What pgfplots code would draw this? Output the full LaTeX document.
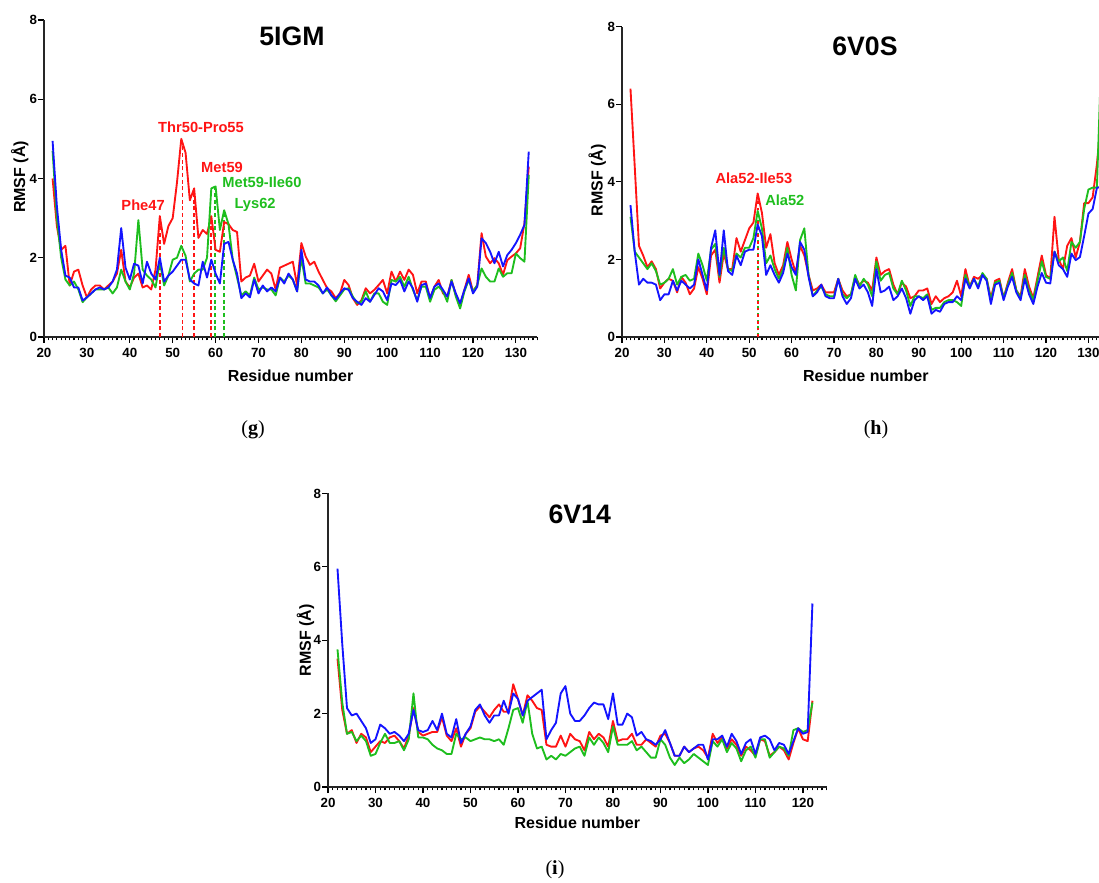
\documentclass[border=0pt]{standalone}
\usepackage{pgfplots}
\pgfplotsset{compat=1.18}
\usepackage{pgfplotstable}
\usepackage{fontspec}
\setmainfont{Liberation Sans}
\newfontfamily\capfont{Liberation Serif}

\definecolor{cred}{RGB}{255,20,20}
\definecolor{cgreen}{RGB}{30,190,30}
\definecolor{cblue}{RGB}{20,20,255}

% RMSF per residue: red, green and blue trajectories
\pgfplotstableread{
res red green blue
22 4.00 4.70 4.95
23 2.80 3.00 3.30
24 2.20 2.00 2.20
25 2.30 1.45 1.55
26 1.30 1.30 1.50
27 1.65 1.40 1.25
28 1.70 1.20 1.25
29 1.30 0.88 0.92
30 1.00 1.00 1.00
31 1.20 1.10 1.10
32 1.30 1.20 1.20
33 1.30 1.20 1.25
34 1.20 1.20 1.20
35 1.30 1.25 1.25
36 1.40 1.10 1.40
37 1.60 1.25 1.70
38 2.20 1.70 2.75
39 1.40 1.40 1.75
40 1.25 1.20 1.45
41 1.50 1.60 1.85
42 1.60 2.95 1.80
43 1.25 1.70 1.35
44 1.30 1.55 1.90
45 1.20 1.45 1.60
46 1.70 1.25 1.45
47 3.05 1.90 2.00
48 2.35 1.30 1.40
49 2.80 1.55 1.55
50 3.00 1.95 1.65
51 3.90 2.00 1.80
52 5.00 2.30 1.95
53 4.65 2.05 1.95
54 3.45 1.40 1.45
55 3.75 1.60 1.35
56 2.50 1.70 1.30
57 2.70 1.70 1.90
58 2.60 2.00 1.50
59 3.05 3.75 1.95
60 2.20 3.80 1.60
61 2.15 2.70 1.35
62 2.90 3.20 2.35
63 2.85 2.85 2.40
64 2.70 1.95 1.95
65 2.65 1.50 1.60
66 1.40 1.05 0.98
67 1.50 1.15 1.10
68 1.55 1.05 1.00
69 1.85 1.50 1.45
70 1.40 1.20 1.10
71 1.55 1.25 1.30
72 1.70 1.20 1.15
73 1.60 1.20 1.25
74 1.20 1.05 1.15
75 1.75 1.50 1.50
76 1.80 1.40 1.35
77 1.85 1.55 1.60
78 1.90 1.45 1.45
79 1.30 1.15 1.15
80 2.37 2.00 2.20
81 2.03 1.35 1.45
82 1.82 1.35 1.40
83 1.90 1.30 1.40
84 1.65 1.25 1.30
85 1.44 1.10 1.10
86 1.23 1.20 1.25
87 1.15 1.05 1.05
88 0.98 0.90 0.95
89 1.10 1.05 1.10
90 1.44 1.20 1.23
91 1.31 1.23 1.19
92 0.98 1.02 0.98
93 0.81 0.85 0.89
94 0.93 0.89 0.81
95 1.23 1.15 0.98
96 1.10 0.89 0.89
97 1.19 1.10 1.06
98 1.31 1.10 1.23
99 1.44 0.89 1.15
100 1.10 0.81 0.93
101 1.65 1.44 1.35
102 1.40 1.40 1.31
103 1.65 1.52 1.44
104 1.44 1.27 1.15
105 1.70 1.52 1.40
106 1.57 1.19 1.23
107 1.10 0.93 0.89
108 1.40 1.27 1.31
109 1.40 1.27 1.35
110 0.98 0.89 0.98
111 1.27 1.19 1.27
112 1.44 1.27 1.35
113 1.10 1.15 1.19
114 1.02 0.89 1.02
115 1.44 1.44 1.40
116 1.06 1.02 1.10
117 0.81 0.72 0.85
118 1.19 1.15 1.19
119 1.57 1.44 1.48
120 1.15 1.15 1.10
121 1.31 1.31 1.27
122 2.62 1.73 2.49
123 2.03 1.52 2.37
124 1.86 1.40 2.15
125 1.99 1.40 1.86
126 1.86 1.73 2.15
127 1.57 1.52 1.78
128 1.94 1.61 2.07
129 2.03 1.61 2.20
130 2.11 2.11 2.37
131 2.24 1.99 2.58
132 2.87 1.90 2.83
133 4.30 4.09 4.68
}\tabIGM

\pgfplotstableread{
res red green blue
22 6.40 3.10 3.40
23 4.40 2.20 2.20
24 2.35 2.05 1.35
25 2.10 1.90 1.50
26 1.80 1.75 1.40
27 1.95 1.90 1.40
28 1.75 1.70 1.35
29 1.25 1.35 0.95
30 1.40 1.40 1.10
31 1.50 1.50 1.10
32 1.45 1.75 1.45
33 1.15 1.35 1.20
34 1.55 1.55 1.45
35 1.40 1.60 1.35
36 1.10 1.45 1.25
37 1.25 1.50 1.35
38 1.80 2.15 2.00
39 1.50 1.85 1.60
40 1.10 1.45 1.20
41 2.10 2.25 2.30
42 2.25 2.40 2.75
43 1.40 1.55 1.60
44 2.15 2.30 2.75
45 1.75 1.75 1.70
46 1.75 1.70 1.60
47 2.55 2.15 2.10
48 2.20 2.05 1.85
49 2.50 2.30 2.20
50 2.80 2.30 2.25
51 2.95 2.55 2.25
52 3.70 3.25 2.90
53 3.20 2.80 2.60
54 2.30 1.90 1.60
55 2.65 2.10 1.85
56 1.90 1.75 1.60
57 1.60 1.50 1.40
58 1.85 1.75 1.65
59 2.45 2.30 2.15
60 2.00 1.60 1.80
61 1.65 1.20 1.60
62 2.35 2.50 2.45
63 2.10 2.80 2.25
64 1.60 1.60 1.55
65 1.20 1.05 1.05
66 1.25 1.20 1.15
67 1.35 1.30 1.35
68 1.15 1.10 1.05
69 1.15 1.05 1.00
70 1.15 1.05 1.00
71 1.50 1.50 1.50
72 1.20 1.10 1.05
73 1.05 1.00 0.85
74 1.10 1.10 1.00
75 1.55 1.60 1.50
76 1.35 1.30 1.25
77 1.45 1.50 1.35
78 1.40 1.35 1.15
79 1.20 1.05 0.80
80 2.05 1.95 1.75
81 1.60 1.45 1.15
82 1.70 1.60 1.20
83 1.75 1.65 1.30
84 1.35 1.25 0.95
85 1.10 1.10 1.05
86 1.40 1.45 1.25
87 1.30 1.20 1.00
88 1.00 0.80 0.60
89 1.05 1.05 0.95
90 1.20 1.05 1.05
91 1.20 1.00 0.95
92 1.25 1.10 1.05
93 0.85 0.70 0.60
94 1.05 0.75 0.70
95 0.90 0.75 0.65
96 1.00 0.90 0.85
97 1.05 0.95 0.90
98 1.15 0.95 0.90
99 1.45 0.90 1.05
100 1.05 0.80 0.95
101 1.75 1.60 1.50
102 1.30 1.30 1.25
103 1.55 1.50 1.50
104 1.50 1.30 1.25
105 1.60 1.65 1.60
106 1.50 1.50 1.45
107 1.00 0.95 0.85
108 1.45 1.40 1.35
109 1.50 1.45 1.40
110 1.00 1.00 0.95
111 1.40 1.35 1.30
112 1.75 1.65 1.55
113 1.20 1.20 1.15
114 1.05 1.00 0.95
115 1.75 1.60 1.50
116 1.30 1.20 1.10
117 1.00 0.95 0.85
118 1.55 1.45 1.30
119 2.10 1.95 1.65
120 1.60 1.55 1.40
121 1.50 1.50 1.38
122 3.10 2.20 2.20
123 2.00 1.95 1.85
124 1.75 2.05 1.75
125 2.35 1.70 1.55
126 2.55 2.45 2.15
127 2.05 2.30 1.98
128 2.45 2.45 2.06
129 3.45 3.30 2.60
130 3.45 3.80 3.18
131 3.60 3.85 3.30
132 4.45 3.85 3.84
133 5.60 7.10 3.88
}\tabVOS

\pgfplotstableread{
res red green blue
22 3.50 3.75 5.95
23 2.10 2.30 3.90
24 1.45 1.45 2.15
25 1.55 1.50 1.95
26 1.20 1.25 2.00
27 1.45 1.40 1.80
28 1.35 1.25 1.60
29 0.95 0.85 1.20
30 1.10 0.90 1.30
31 1.25 1.20 1.70
32 1.20 1.45 1.60
33 1.35 1.20 1.45
34 1.40 1.20 1.50
35 1.25 1.25 1.40
36 1.05 1.00 1.25
37 1.40 1.30 1.45
38 2.15 2.55 2.10
39 1.50 1.35 1.55
40 1.40 1.35 1.50
41 1.45 1.30 1.55
42 1.50 1.15 1.80
43 1.50 1.05 1.55
44 1.90 1.00 2.00
45 1.40 0.90 1.45
46 1.25 0.90 1.35
47 1.60 1.45 1.85
48 1.10 1.30 1.20
49 1.45 1.35 1.45
50 1.60 1.25 1.65
51 2.05 1.30 2.10
52 2.20 1.35 2.25
53 2.05 1.30 1.95
54 1.90 1.30 1.75
55 2.10 1.25 1.95
56 2.25 1.30 1.95
57 2.05 1.15 2.35
58 2.05 1.60 2.00
59 2.80 2.10 2.55
60 2.40 2.15 2.40
61 1.95 1.75 1.95
62 2.50 2.35 2.35
63 2.35 1.45 2.45
64 2.15 1.05 2.55
65 2.10 1.10 2.65
66 1.15 0.75 1.30
67 1.10 0.85 1.55
68 1.10 0.75 1.75
69 1.40 0.90 2.55
70 1.10 0.85 2.75
71 1.45 0.95 2.00
72 1.30 1.05 1.80
73 1.25 1.10 1.80
74 1.00 0.85 1.95
75 1.50 1.35 2.15
76 1.30 1.15 2.30
77 1.45 1.35 2.25
78 1.35 1.20 2.25
79 1.10 0.95 1.85
80 1.80 1.65 2.55
81 1.25 1.15 1.70
82 1.30 1.15 1.70
83 1.30 1.15 2.00
84 1.45 1.25 1.90
85 1.15 1.00 1.40
86 1.15 1.10 1.50
87 1.30 0.95 1.30
88 1.20 0.80 1.25
89 1.10 0.80 1.15
90 1.40 1.30 1.30
91 1.45 1.15 1.55
92 1.20 0.80 1.20
93 0.85 0.60 0.85
94 0.85 0.80 0.85
95 1.10 0.65 1.10
96 0.95 0.75 0.95
97 1.05 0.90 1.05
98 1.10 0.80 1.15
99 1.00 0.70 1.15
100 0.80 0.60 0.75
101 1.45 1.25 1.30
102 1.20 1.10 1.30
103 1.35 1.30 1.40
104 1.05 0.95 1.10
105 1.30 1.20 1.45
106 1.15 1.05 1.25
107 0.85 0.70 0.90
108 1.10 1.00 1.20
109 1.00 1.10 1.30
110 0.85 0.80 0.90
111 1.30 1.30 1.35
112 1.25 1.30 1.40
113 0.85 0.80 1.30
114 0.95 0.95 1.00
115 1.10 1.10 1.20
116 1.00 1.05 1.15
117 0.75 0.85 0.90
118 1.20 1.55 1.25
119 1.60 1.60 1.60
120 1.30 1.50 1.45
121 1.25 1.55 1.50
122 2.35 2.30 5.00
}\tabVIV

\pgfplotsset{
  rmsf/.style={
    scale only axis,
    clip=false,
    axis x line=bottom, axis y line=left,
    axis line style={-, line width=1.6pt, black!85},
    xmin=20, ymin=0, ymax=8,
    ytick={0,2,4,6,8},
    xtick distance=10,
    minor x tick num=9,
    tick align=outside,
    major tick length=4.5pt,
    minor tick length=2.6pt,
    tick style={black, line width=0.9pt},
    tick label style={font=\bfseries\fontsize{10}{12}\selectfont},
    yticklabel style={inner xsep=0.6pt},
    /pgf/number format/assume math mode=true,
    xlabel={Residue number},
    ylabel={RMSF (Å)},
    label style={font=\bfseries\fontsize{12}{14}\selectfont},
    ylabel style={anchor=center},
    xlabel style={anchor=center},
  },
  % dashed guide from the x axis up to a labelled residue
  guide/.style={forget plot, ycomb, mark=none, line width=1.4pt,
    dash pattern=on 3pt off 2pt, line cap=butt},
}
\tikzset{
  rline/.style={line width=1.4pt, line join=round},
  note/.style={font=\bfseries\fontsize{11}{13}\selectfont},
  ttl/.style={font=\bfseries\fontsize{20}{24}\selectfont},
  panelcap/.style={font=\capfont\fontsize{15}{17}\selectfont},
}

\begin{document}
\begin{tikzpicture}
\useasboundingbox (0,0) rectangle (824.25pt,661.5pt);

% 5IGM
\begin{axis}[rmsf, at={(33pt,408.75pt)}, anchor=south west,
  width=370pt, height=237.75pt, xmax=135,
  xlabel style={at={(axis description cs:0.5,-0.123)}},
  ylabel style={at={(axis description cs:-0.049,0.505)}}]
  \addplot[guide, color=cred]   coordinates {(47,3.05) (52.3,4.95) (55,3.75) (59,3.05)};
  \addplot[guide, color=cgreen] coordinates {(59.8,3.80) (62,3.20)};
  \addplot[rline, cred]   table[x=res, y=red]   {\tabIGM};
  \addplot[rline, cgreen] table[x=res, y=green] {\tabIGM};
  \addplot[rline, cblue]  table[x=res, y=blue]  {\tabIGM};
  \node[ttl] at (axis cs:77.8,7.58) {5IGM};
  \node[note, text=cred]   at (axis cs:56.6,5.30) {Thr50-Pro55};
  \node[note, text=cred]   at (axis cs:43.1,3.33) {Phe47};
  \node[note, text=cred]   at (axis cs:61.5,4.27) {Met59};
  \node[note, text=cgreen] at (axis cs:70.8,3.91) {Met59-Ile60};
  \node[note, text=cgreen] at (axis cs:69.2,3.33) {Lys62};
\end{axis}

% 6V0S
\begin{axis}[rmsf, at={(466.5pt,408.75pt)}, anchor=south west,
  width=365.7pt, height=232.8pt, xmax=135,
  xlabel style={at={(axis description cs:0.5,-0.126)}},
  ylabel style={at={(axis description cs:-0.051,0.505)}}]
  \addplot[guide, color=cgreen] coordinates {(52,3.25)};
  \addplot[guide, color=cred, dash pattern=on 2pt off 3pt] coordinates {(52,3.70)};
  \addplot[rline, cred]   table[x=res, y=red]   {\tabVOS};
  \addplot[rline, cgreen] table[x=res, y=green] {\tabVOS};
  \addplot[rline, cblue]  table[x=res, y=blue]  {\tabVOS};
  \node[ttl] at (axis cs:77.3,7.5) {6V0S};
  \node[note, text=cred]   at (axis cs:51.1,4.10) {Ala52-Ile53};
  \node[note, text=cgreen] at (axis cs:58.4,3.53) {Ala52};
\end{axis}

% 6V14
\begin{axis}[rmsf, at={(246pt,71.25pt)}, anchor=south west,
  width=374pt, height=220.2pt, xmax=125,
  xlabel style={at={(axis description cs:0.5,-0.122)}},
  ylabel style={at={(axis description cs:-0.045,0.5)}}]
  \addplot[rline, cred]   table[x=res, y=red]   {\tabVIV};
  \addplot[rline, cgreen] table[x=res, y=green] {\tabVIV};
  \addplot[rline, cblue]  table[x=res, y=blue]  {\tabVIV};
  \node[ttl] at (axis cs:73,7.44) {6V14};
\end{axis}

% panel captions
\node[panelcap] at (189.75pt,339pt) {(\textbf{g})};
\node[panelcap] at (657pt,339pt) {(\textbf{h})};
\node[panelcap] at (416.25pt,9pt) {(\textbf{i})};
\end{tikzpicture}
\end{document}
